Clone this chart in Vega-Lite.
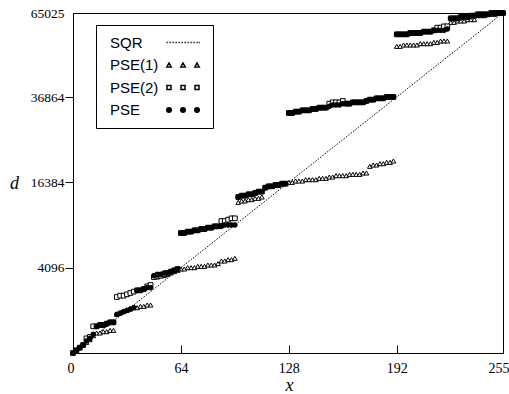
{
"$schema":"https://vega.github.io/schema/vega-lite/v6.json",
"width":430,"height":340,
"autosize":{"type":"none"},
"padding":{"left":73,"top":13,"right":6,"bottom":41},
"background":"white",
"config":{"view":{"stroke":"black","strokeWidth":1},"axis":{"grid":false,"domainColor":"black","tickColor":"black","labelColor":"black","titleColor":"black","labelFont":"Liberation Serif","titleFont":"Liberation Serif","titleFontWeight":"normal"}},
"data":{"values":[
{"x":0,"d":0,"s":"PSE(1)"},{"x":2,"d":4,"s":"PSE(1)"},{"x":4,"d":16,"s":"PSE(1)"},{"x":6,"d":36,"s":"PSE(1)"},{"x":8,"d":64,"s":"PSE(1)"},{"x":10,"d":100,"s":"PSE(1)"},{"x":12,"d":169,"s":"PSE(1)"},{"x":14,"d":225,"s":"PSE(1)"},{"x":16,"d":225,"s":"PSE(1)"},{"x":18,"d":256,"s":"PSE(1)"},{"x":20,"d":256,"s":"PSE(1)"},{"x":22,"d":289,"s":"PSE(1)"},{"x":24,"d":289,"s":"PSE(1)"},{"x":26,"d":841,"s":"PSE(1)"},{"x":28,"d":900,"s":"PSE(1)"},{"x":30,"d":961,"s":"PSE(1)"},{"x":32,"d":1024,"s":"PSE(1)"},{"x":34,"d":1089,"s":"PSE(1)"},{"x":36,"d":1156,"s":"PSE(1)"},{"x":38,"d":1156,"s":"PSE(1)"},{"x":40,"d":1225,"s":"PSE(1)"},{"x":42,"d":1225,"s":"PSE(1)"},{"x":44,"d":1296,"s":"PSE(1)"},{"x":46,"d":1296,"s":"PSE(1)"},{"x":48,"d":3249,"s":"PSE(1)"},{"x":50,"d":3249,"s":"PSE(1)"},{"x":52,"d":3364,"s":"PSE(1)"},{"x":54,"d":3364,"s":"PSE(1)"},{"x":56,"d":3481,"s":"PSE(1)"},{"x":58,"d":3600,"s":"PSE(1)"},{"x":60,"d":3721,"s":"PSE(1)"},{"x":62,"d":3844,"s":"PSE(1)"},{"x":64,"d":3969,"s":"PSE(1)"},{"x":66,"d":3969,"s":"PSE(1)"},{"x":68,"d":4096,"s":"PSE(1)"},{"x":70,"d":4096,"s":"PSE(1)"},{"x":72,"d":4096,"s":"PSE(1)"},{"x":74,"d":4225,"s":"PSE(1)"},{"x":76,"d":4225,"s":"PSE(1)"},{"x":78,"d":4225,"s":"PSE(1)"},{"x":80,"d":4356,"s":"PSE(1)"},{"x":82,"d":4356,"s":"PSE(1)"},{"x":84,"d":4356,"s":"PSE(1)"},{"x":86,"d":4489,"s":"PSE(1)"},{"x":88,"d":4761,"s":"PSE(1)"},{"x":90,"d":4761,"s":"PSE(1)"},{"x":92,"d":4900,"s":"PSE(1)"},{"x":94,"d":4900,"s":"PSE(1)"},{"x":96,"d":5041,"s":"PSE(1)"},{"x":98,"d":12769,"s":"PSE(1)"},{"x":100,"d":12996,"s":"PSE(1)"},{"x":102,"d":12996,"s":"PSE(1)"},{"x":104,"d":13225,"s":"PSE(1)"},{"x":106,"d":13225,"s":"PSE(1)"},{"x":108,"d":13456,"s":"PSE(1)"},{"x":110,"d":13456,"s":"PSE(1)"},{"x":112,"d":13689,"s":"PSE(1)"},{"x":114,"d":15376,"s":"PSE(1)"},{"x":116,"d":15625,"s":"PSE(1)"},{"x":118,"d":15625,"s":"PSE(1)"},{"x":120,"d":15876,"s":"PSE(1)"},{"x":122,"d":15876,"s":"PSE(1)"},{"x":124,"d":16129,"s":"PSE(1)"},{"x":126,"d":16129,"s":"PSE(1)"},{"x":128,"d":16384,"s":"PSE(1)"},{"x":130,"d":16384,"s":"PSE(1)"},{"x":132,"d":16641,"s":"PSE(1)"},{"x":134,"d":16641,"s":"PSE(1)"},{"x":136,"d":16641,"s":"PSE(1)"},{"x":138,"d":16900,"s":"PSE(1)"},{"x":140,"d":16900,"s":"PSE(1)"},{"x":142,"d":16900,"s":"PSE(1)"},{"x":144,"d":16900,"s":"PSE(1)"},{"x":146,"d":17161,"s":"PSE(1)"},{"x":148,"d":17161,"s":"PSE(1)"},{"x":150,"d":17161,"s":"PSE(1)"},{"x":152,"d":17424,"s":"PSE(1)"},{"x":154,"d":17424,"s":"PSE(1)"},{"x":156,"d":17689,"s":"PSE(1)"},{"x":158,"d":17689,"s":"PSE(1)"},{"x":160,"d":17689,"s":"PSE(1)"},{"x":162,"d":17689,"s":"PSE(1)"},{"x":164,"d":17956,"s":"PSE(1)"},{"x":166,"d":17956,"s":"PSE(1)"},{"x":168,"d":17956,"s":"PSE(1)"},{"x":170,"d":17956,"s":"PSE(1)"},{"x":172,"d":18225,"s":"PSE(1)"},{"x":174,"d":18225,"s":"PSE(1)"},{"x":176,"d":19600,"s":"PSE(1)"},{"x":178,"d":19881,"s":"PSE(1)"},{"x":180,"d":19881,"s":"PSE(1)"},{"x":182,"d":20164,"s":"PSE(1)"},{"x":184,"d":20164,"s":"PSE(1)"},{"x":186,"d":20449,"s":"PSE(1)"},{"x":188,"d":20449,"s":"PSE(1)"},{"x":190,"d":20736,"s":"PSE(1)"},{"x":192,"d":52900,"s":"PSE(1)"},{"x":194,"d":52900,"s":"PSE(1)"},{"x":196,"d":53361,"s":"PSE(1)"},{"x":198,"d":53361,"s":"PSE(1)"},{"x":200,"d":53361,"s":"PSE(1)"},{"x":202,"d":53361,"s":"PSE(1)"},{"x":204,"d":53361,"s":"PSE(1)"},{"x":206,"d":53824,"s":"PSE(1)"},{"x":208,"d":53824,"s":"PSE(1)"},{"x":210,"d":53824,"s":"PSE(1)"},{"x":212,"d":53824,"s":"PSE(1)"},{"x":214,"d":54289,"s":"PSE(1)"},{"x":216,"d":54289,"s":"PSE(1)"},{"x":218,"d":54756,"s":"PSE(1)"},{"x":220,"d":54756,"s":"PSE(1)"},{"x":222,"d":54756,"s":"PSE(1)"},{"x":224,"d":61504,"s":"PSE(1)"},{"x":226,"d":61504,"s":"PSE(1)"},{"x":228,"d":62001,"s":"PSE(1)"},{"x":230,"d":62001,"s":"PSE(1)"},{"x":232,"d":62001,"s":"PSE(1)"},{"x":234,"d":62500,"s":"PSE(1)"},{"x":236,"d":62500,"s":"PSE(1)"},{"x":238,"d":62500,"s":"PSE(1)"},{"x":240,"d":64009,"s":"PSE(1)"},{"x":242,"d":64009,"s":"PSE(1)"},{"x":244,"d":64009,"s":"PSE(1)"},{"x":246,"d":64516,"s":"PSE(1)"},{"x":248,"d":64516,"s":"PSE(1)"},{"x":250,"d":64516,"s":"PSE(1)"},{"x":252,"d":65025,"s":"PSE(1)"},{"x":254,"d":65025,"s":"PSE(1)"},{"x":255,"d":65025,"s":"PSE(1)"},
{"x":0,"d":0,"s":"PSE(2)"},{"x":2,"d":4,"s":"PSE(2)"},{"x":4,"d":16,"s":"PSE(2)"},{"x":6,"d":36,"s":"PSE(2)"},{"x":8,"d":121,"s":"PSE(2)"},{"x":10,"d":144,"s":"PSE(2)"},{"x":12,"d":400,"s":"PSE(2)"},{"x":14,"d":400,"s":"PSE(2)"},{"x":16,"d":441,"s":"PSE(2)"},{"x":18,"d":441,"s":"PSE(2)"},{"x":20,"d":484,"s":"PSE(2)"},{"x":22,"d":529,"s":"PSE(2)"},{"x":24,"d":529,"s":"PSE(2)"},{"x":26,"d":1764,"s":"PSE(2)"},{"x":28,"d":1849,"s":"PSE(2)"},{"x":30,"d":1849,"s":"PSE(2)"},{"x":32,"d":1936,"s":"PSE(2)"},{"x":34,"d":2025,"s":"PSE(2)"},{"x":36,"d":2116,"s":"PSE(2)"},{"x":38,"d":2209,"s":"PSE(2)"},{"x":40,"d":2209,"s":"PSE(2)"},{"x":42,"d":2304,"s":"PSE(2)"},{"x":44,"d":2500,"s":"PSE(2)"},{"x":46,"d":2601,"s":"PSE(2)"},{"x":48,"d":3249,"s":"PSE(2)"},{"x":50,"d":3364,"s":"PSE(2)"},{"x":52,"d":3364,"s":"PSE(2)"},{"x":54,"d":3481,"s":"PSE(2)"},{"x":56,"d":3600,"s":"PSE(2)"},{"x":58,"d":3721,"s":"PSE(2)"},{"x":60,"d":3844,"s":"PSE(2)"},{"x":62,"d":3969,"s":"PSE(2)"},{"x":64,"d":8100,"s":"PSE(2)"},{"x":66,"d":8100,"s":"PSE(2)"},{"x":68,"d":8281,"s":"PSE(2)"},{"x":70,"d":8281,"s":"PSE(2)"},{"x":72,"d":8464,"s":"PSE(2)"},{"x":74,"d":8464,"s":"PSE(2)"},{"x":76,"d":8649,"s":"PSE(2)"},{"x":78,"d":8649,"s":"PSE(2)"},{"x":80,"d":8836,"s":"PSE(2)"},{"x":82,"d":8836,"s":"PSE(2)"},{"x":84,"d":9025,"s":"PSE(2)"},{"x":86,"d":9025,"s":"PSE(2)"},{"x":88,"d":9801,"s":"PSE(2)"},{"x":90,"d":9801,"s":"PSE(2)"},{"x":92,"d":10000,"s":"PSE(2)"},{"x":94,"d":10201,"s":"PSE(2)"},{"x":96,"d":10201,"s":"PSE(2)"},{"x":98,"d":13689,"s":"PSE(2)"},{"x":100,"d":13924,"s":"PSE(2)"},{"x":102,"d":13924,"s":"PSE(2)"},{"x":104,"d":14161,"s":"PSE(2)"},{"x":106,"d":14161,"s":"PSE(2)"},{"x":108,"d":14400,"s":"PSE(2)"},{"x":110,"d":14641,"s":"PSE(2)"},{"x":112,"d":14641,"s":"PSE(2)"},{"x":114,"d":15376,"s":"PSE(2)"},{"x":116,"d":15625,"s":"PSE(2)"},{"x":118,"d":15625,"s":"PSE(2)"},{"x":120,"d":15876,"s":"PSE(2)"},{"x":122,"d":15876,"s":"PSE(2)"},{"x":124,"d":16129,"s":"PSE(2)"},{"x":126,"d":16129,"s":"PSE(2)"},{"x":128,"d":32400,"s":"PSE(2)"},{"x":130,"d":32400,"s":"PSE(2)"},{"x":132,"d":32761,"s":"PSE(2)"},{"x":134,"d":32761,"s":"PSE(2)"},{"x":136,"d":33124,"s":"PSE(2)"},{"x":138,"d":33124,"s":"PSE(2)"},{"x":140,"d":33124,"s":"PSE(2)"},{"x":142,"d":33489,"s":"PSE(2)"},{"x":144,"d":33489,"s":"PSE(2)"},{"x":146,"d":33856,"s":"PSE(2)"},{"x":148,"d":33856,"s":"PSE(2)"},{"x":150,"d":33856,"s":"PSE(2)"},{"x":152,"d":34969,"s":"PSE(2)"},{"x":154,"d":35344,"s":"PSE(2)"},{"x":156,"d":35344,"s":"PSE(2)"},{"x":158,"d":35344,"s":"PSE(2)"},{"x":160,"d":35721,"s":"PSE(2)"},{"x":162,"d":34969,"s":"PSE(2)"},{"x":164,"d":34969,"s":"PSE(2)"},{"x":166,"d":35344,"s":"PSE(2)"},{"x":168,"d":35344,"s":"PSE(2)"},{"x":170,"d":35344,"s":"PSE(2)"},{"x":172,"d":35344,"s":"PSE(2)"},{"x":174,"d":35721,"s":"PSE(2)"},{"x":176,"d":36100,"s":"PSE(2)"},{"x":178,"d":36100,"s":"PSE(2)"},{"x":180,"d":36481,"s":"PSE(2)"},{"x":182,"d":36481,"s":"PSE(2)"},{"x":184,"d":36481,"s":"PSE(2)"},{"x":186,"d":36864,"s":"PSE(2)"},{"x":188,"d":36864,"s":"PSE(2)"},{"x":190,"d":36864,"s":"PSE(2)"},{"x":192,"d":57121,"s":"PSE(2)"},{"x":194,"d":57121,"s":"PSE(2)"},{"x":196,"d":57121,"s":"PSE(2)"},{"x":198,"d":57121,"s":"PSE(2)"},{"x":200,"d":57600,"s":"PSE(2)"},{"x":202,"d":57600,"s":"PSE(2)"},{"x":204,"d":57600,"s":"PSE(2)"},{"x":206,"d":57600,"s":"PSE(2)"},{"x":208,"d":58081,"s":"PSE(2)"},{"x":210,"d":58081,"s":"PSE(2)"},{"x":212,"d":58081,"s":"PSE(2)"},{"x":214,"d":58564,"s":"PSE(2)"},{"x":216,"d":59536,"s":"PSE(2)"},{"x":218,"d":59536,"s":"PSE(2)"},{"x":220,"d":60025,"s":"PSE(2)"},{"x":222,"d":60025,"s":"PSE(2)"},{"x":224,"d":63001,"s":"PSE(2)"},{"x":226,"d":63001,"s":"PSE(2)"},{"x":228,"d":63001,"s":"PSE(2)"},{"x":230,"d":63504,"s":"PSE(2)"},{"x":232,"d":63504,"s":"PSE(2)"},{"x":234,"d":63504,"s":"PSE(2)"},{"x":236,"d":64009,"s":"PSE(2)"},{"x":238,"d":64009,"s":"PSE(2)"},{"x":240,"d":64516,"s":"PSE(2)"},{"x":242,"d":64516,"s":"PSE(2)"},{"x":244,"d":64516,"s":"PSE(2)"},{"x":246,"d":64516,"s":"PSE(2)"},{"x":248,"d":65025,"s":"PSE(2)"},{"x":250,"d":65025,"s":"PSE(2)"},{"x":252,"d":65025,"s":"PSE(2)"},{"x":254,"d":65025,"s":"PSE(2)"},{"x":255,"d":65025,"s":"PSE(2)"},
{"x":0,"d":0,"s":"PSE"},{"x":2,"d":4,"s":"PSE"},{"x":4,"d":16,"s":"PSE"},{"x":6,"d":36,"s":"PSE"},{"x":8,"d":81,"s":"PSE"},{"x":10,"d":121,"s":"PSE"},{"x":12,"d":196,"s":"PSE"},{"x":14,"d":400,"s":"PSE"},{"x":16,"d":441,"s":"PSE"},{"x":18,"d":441,"s":"PSE"},{"x":20,"d":484,"s":"PSE"},{"x":22,"d":529,"s":"PSE"},{"x":24,"d":529,"s":"PSE"},{"x":26,"d":841,"s":"PSE"},{"x":28,"d":900,"s":"PSE"},{"x":30,"d":961,"s":"PSE"},{"x":32,"d":1024,"s":"PSE"},{"x":34,"d":1089,"s":"PSE"},{"x":36,"d":1156,"s":"PSE"},{"x":38,"d":2209,"s":"PSE"},{"x":40,"d":2209,"s":"PSE"},{"x":42,"d":2304,"s":"PSE"},{"x":44,"d":2401,"s":"PSE"},{"x":46,"d":2401,"s":"PSE"},{"x":48,"d":3364,"s":"PSE"},{"x":50,"d":3481,"s":"PSE"},{"x":52,"d":3481,"s":"PSE"},{"x":54,"d":3600,"s":"PSE"},{"x":56,"d":3600,"s":"PSE"},{"x":58,"d":3721,"s":"PSE"},{"x":60,"d":3844,"s":"PSE"},{"x":62,"d":3969,"s":"PSE"},{"x":64,"d":8100,"s":"PSE"},{"x":66,"d":8100,"s":"PSE"},{"x":68,"d":8281,"s":"PSE"},{"x":70,"d":8281,"s":"PSE"},{"x":72,"d":8464,"s":"PSE"},{"x":74,"d":8464,"s":"PSE"},{"x":76,"d":8649,"s":"PSE"},{"x":78,"d":8649,"s":"PSE"},{"x":80,"d":8836,"s":"PSE"},{"x":82,"d":8836,"s":"PSE"},{"x":84,"d":9025,"s":"PSE"},{"x":86,"d":9025,"s":"PSE"},{"x":88,"d":9025,"s":"PSE"},{"x":90,"d":9216,"s":"PSE"},{"x":92,"d":9216,"s":"PSE"},{"x":94,"d":9216,"s":"PSE"},{"x":96,"d":9216,"s":"PSE"},{"x":98,"d":13689,"s":"PSE"},{"x":100,"d":13924,"s":"PSE"},{"x":102,"d":13924,"s":"PSE"},{"x":104,"d":14161,"s":"PSE"},{"x":106,"d":14161,"s":"PSE"},{"x":108,"d":14400,"s":"PSE"},{"x":110,"d":14641,"s":"PSE"},{"x":112,"d":14641,"s":"PSE"},{"x":114,"d":15376,"s":"PSE"},{"x":116,"d":15625,"s":"PSE"},{"x":118,"d":15625,"s":"PSE"},{"x":120,"d":15876,"s":"PSE"},{"x":122,"d":15876,"s":"PSE"},{"x":124,"d":16129,"s":"PSE"},{"x":126,"d":16129,"s":"PSE"},{"x":128,"d":32400,"s":"PSE"},{"x":130,"d":32400,"s":"PSE"},{"x":132,"d":32761,"s":"PSE"},{"x":134,"d":32761,"s":"PSE"},{"x":136,"d":33124,"s":"PSE"},{"x":138,"d":33124,"s":"PSE"},{"x":140,"d":33124,"s":"PSE"},{"x":142,"d":33489,"s":"PSE"},{"x":144,"d":33489,"s":"PSE"},{"x":146,"d":33856,"s":"PSE"},{"x":148,"d":33856,"s":"PSE"},{"x":150,"d":33856,"s":"PSE"},{"x":152,"d":34225,"s":"PSE"},{"x":154,"d":34596,"s":"PSE"},{"x":156,"d":34596,"s":"PSE"},{"x":158,"d":34596,"s":"PSE"},{"x":160,"d":34969,"s":"PSE"},{"x":162,"d":34969,"s":"PSE"},{"x":164,"d":34969,"s":"PSE"},{"x":166,"d":35344,"s":"PSE"},{"x":168,"d":35344,"s":"PSE"},{"x":170,"d":35344,"s":"PSE"},{"x":172,"d":35344,"s":"PSE"},{"x":174,"d":35721,"s":"PSE"},{"x":176,"d":36100,"s":"PSE"},{"x":178,"d":36100,"s":"PSE"},{"x":180,"d":36481,"s":"PSE"},{"x":182,"d":36481,"s":"PSE"},{"x":184,"d":36481,"s":"PSE"},{"x":186,"d":36864,"s":"PSE"},{"x":188,"d":36864,"s":"PSE"},{"x":190,"d":36864,"s":"PSE"},{"x":192,"d":57121,"s":"PSE"},{"x":194,"d":57121,"s":"PSE"},{"x":196,"d":57121,"s":"PSE"},{"x":198,"d":57121,"s":"PSE"},{"x":200,"d":57600,"s":"PSE"},{"x":202,"d":57600,"s":"PSE"},{"x":204,"d":57600,"s":"PSE"},{"x":206,"d":57600,"s":"PSE"},{"x":208,"d":58081,"s":"PSE"},{"x":210,"d":58081,"s":"PSE"},{"x":212,"d":58081,"s":"PSE"},{"x":214,"d":58564,"s":"PSE"},{"x":216,"d":58564,"s":"PSE"},{"x":218,"d":58564,"s":"PSE"},{"x":220,"d":58564,"s":"PSE"},{"x":222,"d":59049,"s":"PSE"},{"x":224,"d":63001,"s":"PSE"},{"x":226,"d":63001,"s":"PSE"},{"x":228,"d":63001,"s":"PSE"},{"x":230,"d":63504,"s":"PSE"},{"x":232,"d":63504,"s":"PSE"},{"x":234,"d":63504,"s":"PSE"},{"x":236,"d":64009,"s":"PSE"},{"x":238,"d":64009,"s":"PSE"},{"x":240,"d":64516,"s":"PSE"},{"x":242,"d":64516,"s":"PSE"},{"x":244,"d":64516,"s":"PSE"},{"x":246,"d":64516,"s":"PSE"},{"x":248,"d":65025,"s":"PSE"},{"x":250,"d":65025,"s":"PSE"},{"x":252,"d":65025,"s":"PSE"},{"x":254,"d":65025,"s":"PSE"},{"x":255,"d":65025,"s":"PSE"},
{"x":0,"d":0,"s":"SQR"},{"x":255,"d":65025,"s":"SQR"}
]},
"encoding":{
"x":{"field":"x","type":"quantitative","scale":{"domain":[0,255],"nice":false,"zero":true},
 "axis":{"title":"x","titleFontStyle":"italic","titleFontSize":18,"titleX":216,"titleY":37,"titleBaseline":"alphabetic","titleAlign":"center","values":[0,64,128,192,255],"labelFontSize":14,"labelFlush":true,"labelFlushOffset":6,"tickSize":-8,"labelPadding":16,"labelAngle":0,"labelBaseline":"top"}},
"y":{"field":"d","type":"quantitative","scale":{"type":"sqrt","domain":[0,65025],"nice":false},
 "axis":{"title":"d","titleFontStyle":"italic","titleFontSize":18,"titleAngle":0,"titleX":-59,"titleY":175,"titleBaseline":"alphabetic","titleAlign":"center","values":[4096,16384,36864,65025],"format":"d","labelFontSize":13.5,"tickSize":8,"labelPadding":1,"tickOpacity":{"condition":{"test":"datum.value === 65025","value":0},"value":1}}}
},
"layer":[
{"transform":[{"filter":"datum.s === 'SQR'"}],
 "mark":{"type":"line","stroke":"black","strokeWidth":1,"strokeDash":[1.5,1.5]}},
{"transform":[{"filter":"datum.s !== 'SQR'"}],
 "mark":{"type":"point","filled":true,"stroke":"black","strokeWidth":1,"size":22,"opacity":1},
 "encoding":{
  "shape":{"field":"s","type":"nominal","scale":{"domain":["SQR","PSE(1)","PSE(2)","PSE"],"range":["circle","triangle-up","square","circle"]},"legend":null},
  "fill":{"condition":{"test":"datum.s === 'PSE'","value":"black"},"value":"white"}
 }},
{"transform":[{"filter":"false"}],
 "mark":{"type":"point","filled":true,"strokeWidth":0.9,"opacity":1},
 "encoding":{
  "shape":{"field":"s","type":"nominal","scale":{"domain":["SQR","PSE(1)","PSE(2)","PSE"],"range":[
   "M-3.3,0h0.25M-2.7,0h0.25M-2.1,0h0.25M-1.5,0h0.25M-0.9,0h0.25M-0.3,0h0.25M0.3,0h0.25M0.9,0h0.25M1.5,0h0.25M2.1,0h0.25M2.7,0h0.25M3.15,0h0.2",
   "M-3.25,0.4L-2.8,-0.4L-2.35,0.4Z M-0.45,0.4L0,-0.4L0.45,0.4Z M2.35,0.4L2.8,-0.4L3.25,0.4Z",
   "M-3.2,-0.4H-2.4V0.4H-3.2Z M-0.4,-0.4H0.4V0.4H-0.4Z M2.4,-0.4H3.2V0.4H2.4Z",
   "M-3.25,0A0.45,0.45 0 1,0 -2.35,0A0.45,0.45 0 1,0 -3.25,0Z M-0.45,0A0.45,0.45 0 1,0 0.45,0A0.45,0.45 0 1,0 -0.45,0Z M2.35,0A0.45,0.45 0 1,0 3.25,0A0.45,0.45 0 1,0 2.35,0Z"]},
   "legend":{"title":null,"orient":"none","legendX":23,"legendY":12,"padding":10,"strokeColor":"black","fillColor":"white","labelFont":"Liberation Sans","labelFontSize":15,"labelColor":"black","labelLimit":200,"rowPadding":6.5,"symbolSize":100,"symbolOffset":69.5,"labelOffset":-80.5}},
  "fill":{"field":"s","type":"nominal","scale":{"domain":["SQR","PSE(1)","PSE(2)","PSE"],"range":["black","white","white","black"]}},
  "stroke":{"field":"s","type":"nominal","scale":{"domain":["SQR","PSE(1)","PSE(2)","PSE"],"range":["black","black","black","black"]}}
 }}
],
"resolve":{"scale":{"shape":"independent","fill":"independent","stroke":"independent"}}
}
